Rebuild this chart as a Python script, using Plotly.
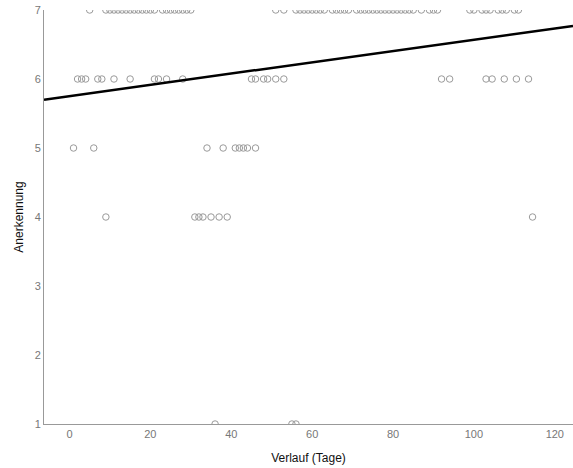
import plotly.graph_objects as go

# Data (day, rating)
days_7 = [5, 9, 10, 11, 12, 13, 14, 15, 16, 17, 18, 19, 20, 21,
          23, 24, 25, 26, 27, 28, 29, 30,
          51, 53, 56, 57, 58, 59, 60, 61, 62, 63, 65, 66, 67, 68, 69,
          71, 72, 73, 74, 75, 76, 77, 78, 79, 80, 81, 82, 83, 84, 85,
          87, 89, 90, 91,
          99, 100, 102, 103, 104, 106, 107, 108, 110, 111]
days_6 = [2, 3, 4, 7, 8, 11, 15, 21, 22, 24, 28,
          45, 46, 48, 49, 51, 53, 92, 94, 103, 104.5, 107.5, 110.5, 113.5]
days_5 = [1, 6, 34, 38, 41, 42, 43, 44, 46]
days_4 = [9, 31, 32, 33, 35, 37, 39, 114.5]
days_1 = [36, 55, 56]

rows = [(7, days_7), (6, days_6), (5, days_5), (4, days_4), (1, days_1)]
x_vals = [d for _, ds in rows for d in ds]
y_vals = [r for r, ds in rows for _ in ds]

# Linear fit line endpoints
fit_x = [-6.3, 124.5]
fit_y = [5.70, 6.77]

x_ticks = [0, 20, 40, 60, 80, 100, 120]
y_ticks = [1, 2, 3, 4, 5, 6, 7]

fig = go.Figure()
fig.add_trace(go.Scatter(
    x=x_vals, y=y_vals, mode="markers",
    marker=dict(symbol="circle-open", size=6.5, color="#9a9a9a",
                line=dict(width=1, color="#9a9a9a")),
    cliponaxis=True, showlegend=False, hoverinfo="skip"))
fig.add_trace(go.Scatter(
    x=fit_x, y=fit_y, mode="lines",
    line=dict(color="black", width=2.5),
    showlegend=False, hoverinfo="skip"))

fig.update_layout(
    width=573, height=468,
    margin=dict(l=44, r=0, t=10, b=44),
    paper_bgcolor="white", plot_bgcolor="white",
    font=dict(family="Liberation Sans, Arial, sans-serif", size=11, color="#777"),
)
fig.update_xaxes(
    range=[-6.3, 124.5], tickvals=x_ticks, showgrid=False, zeroline=False,
    showline=True, linecolor="#999", linewidth=1, ticks="",
    tickfont=dict(size=11, color="#777"),
    title=dict(text="Verlauf (Tage)", font=dict(size=12, color="#111"), standoff=14),
)
fig.update_yaxes(
    range=[1, 7], tickvals=y_ticks, showgrid=False, zeroline=False,
    showline=True, linecolor="#999", linewidth=1, ticks="",
    tickfont=dict(size=11, color="#777"),
    title=dict(text="Anerkennung", font=dict(size=12, color="#111"), standoff=8),
)

fig.write_html("out.html")
